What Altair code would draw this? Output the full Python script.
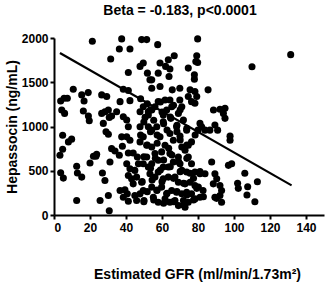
import altair as alt
import pandas as pd

gfr = [
    21.3, 3.7, 5.6, 7.4, 4.3, 5.9, 10.7, 4.8, 9.8, 8.0, 4.8, 3.3, 3.7, 5.2, 12.6, 13.0, 15.4, 12.6,
    15.4, 19.0, 16.7, 16.3, 19.1, 19.6, 20.0, 21.9, 23.3, 23.7,
    26.5, 29.3, 26.5, 28.3, 30.2, 30.7, 27.4, 28.9, 30.2, 26.9, 28.3, 25.6, 30.2, 30.7, 31.5, 32.0, 33.9, 36.3, 31.1, 34.8, 32.0, 36.7,
    36.3, 37.6, 42.2, 41.3, 38.5, 41.3, 42.2, 38.5, 40.4, 41.3, 37.6, 40.4, 42.2, 38.0, 41.3, 44.0, 46.3, 40.4, 42.2, 44.9, 41.3, 43.1, 44.0, 36.7, 39.4, 40.7, 38.5, 41.3, 44.9, 45.9, 47.8, 49.6, 48.7, 45.9, 50.0,
    48.7, 51.5, 47.8, 49.6, 51.9, 53.3, 49.6, 52.4, 47.8, 50.6, 47.8, 52.4, 49.6, 47.8, 51.5, 46.9, 51.5, 52.4, 49.6,
    57.6, 79.8, 63.5, 66.8, 64.4, 62.0, 79.3, 79.8, 78.8, 74.6, 78.0, 78.0, 58.9, 54.3, 57.9, 63.9, 69.9, 65.7, 58.9, 54.3, 75.6, 78.3, 85.6, 74.6, 76.4, 79.3, 78.3,
    61.7, 64.4, 65.4, 62.6, 60.7, 57.9, 56.1, 54.3, 52.4, 69.9, 71.0, 69.1, 71.9, 68.1, 64.9, 60.7, 57.1, 54.3, 58.9, 61.7, 64.4, 66.3, 70.0, 73.7, 71.0, 74.6, 76.4, 80.0, 81.1, 82.0, 83.9, 88.6, 92.2, 95.0, 95.0, 94.1, 89.4, 90.9, 97.8, 97.8, 86.6,
    54.3, 56.1, 59.8, 64.4, 69.1, 72.8, 74.6, 76.4, 54.3, 57.9, 60.7, 63.5, 66.3, 70.0, 71.0, 73.7, 78.3, 81.1, 83.9, 87.6, 89.4, 90.4, 96.9, 98.7, 53.3, 56.1, 57.9, 60.7, 63.5, 67.2, 69.1, 72.8, 75.6, 78.3, 80.2, 82.8, 88.5, 92.2, 93.1, 92.2, 89.4, 93.1,
    54.3, 57.1, 59.8, 62.6, 65.4, 68.1, 71.0, 73.7, 76.4, 55.2, 57.9, 61.7, 64.4, 67.2, 69.1, 71.9, 74.6, 72.8, 78.3, 81.1,
    106.0, 102.0, 102.4, 107.6, 113.0, 107.2, 111.6, 110.0, 131.5,
    48.1, 53.6, 57.3, 62.8, 68.3, 73.8, 78.4, 51.8, 57.3, 63.7, 70.1, 73.8, 49.9, 56.3, 60.9, 65.5, 69.2, 73.8,
    53.6, 59.1, 64.6, 70.1, 75.6, 81.1, 49.0, 54.5, 60.0, 66.4, 72.0, 77.5, 51.8, 57.3, 62.8, 68.3, 73.8, 79.3,
    49.9, 55.4, 60.9, 66.4, 72.0, 77.5, 83.0, 90.3,
    48.1, 51.8, 53.6, 59.1, 66.4, 60.0, 64.6, 70.1, 49.9, 55.4, 60.9, 68.3,
]
hepassocin = [
    1963, 1289, 1319, 1319, 1186, 1148, 1421, 902, 857, 826, 743, 675, 478, 417, 550, 474, 428, 163,
    1357, 1383, 1289, 1175, 1118, 1065, 587, 663, 663, 686,
    1357, 1338, 1148, 1167, 1186, 1103, 1035, 940, 913, 474, 390, 163, 220, 49, 1762, 750, 724, 675, 599, 1167, 1118, 1281,
    1876, 1990, 1876, 1611, 1421, 1406, 1292, 1110, 1073, 997, 883, 883, 845, 777, 701, 701, 656, 580, 523, 504, 447, 409, 352, 277, 284, 239, 201, 155, 220, 163, 239, 277, 371, 428, 163,
    1982, 1982, 1679, 1717, 1603, 1527, 1224, 1167, 1167, 1103, 997, 997, 883, 826, 788, 580, 656, 542, 580,
    1925, 1990, 1755, 1800, 1649, 1679, 1800, 1724, 1735, 1660, 1584, 1535, 1717, 1527, 1603, 1565, 1433, 1414, 1452, 1433, 1414, 1395, 1414, 1338, 1281, 1338, 1262,
    1300, 1300, 1224, 1186, 1129, 1281, 1224, 1186, 1129, 1300, 1224, 1148, 1073, 997, 1092, 1054, 997, 959, 883, 788, 921, 845, 891, 959, 769, 788, 826, 959, 1035, 997, 959, 1186, 1194, 1205, 1092, 1148, 1016, 959, 891, 845, 959,
    769, 694, 713, 694, 656, 731, 656, 580, 580, 618, 542, 542, 599, 580, 504, 485, 485, 466, 466, 599, 466, 409, 561, 580, 466, 428, 485, 409, 428, 428, 371, 352, 371, 333, 315, 277, 352, 333, 277, 220, 201, 144,
    315, 277, 315, 239, 277, 258, 239, 258, 239, 201, 144, 182, 144, 163, 106, 163, 144, 87, 182, 201,
    471, 358, 301, 320, 376, 226, 150, 1675, 1812,
    904, 942, 904, 960, 942, 979, 904, 791, 810, 753, 848, 791, 659, 640, 621, 678, 603, 640,
    527, 508, 546, 490, 471, 490, 377, 396, 377, 414, 358, 414, 264, 283, 245, 264, 226, 301,
    151, 170, 132, 151, 113, 170, 207, 188,
    1314, 1258, 1190, 1277, 1240, 1164, 1107, 1190, 1051, 1070, 1032, 1013,
]

line_gfr = [3.3, 132.0]
line_hep = [1830, 335]

x_ticks = [0, 20, 40, 60, 80, 100, 120, 140]
y_ticks = [0, 500, 1000, 1500, 2000]

pts = pd.DataFrame({"gfr": gfr, "hep": hepassocin})
ln = pd.DataFrame({"gfr": line_gfr, "hep": line_hep})

FONT = "Liberation Sans"

xscale = alt.Scale(domain=[0, 150], nice=False, zero=False)
yscale = alt.Scale(domain=[0, 2000], nice=False)

xaxis = alt.Axis(
    values=x_ticks, format="d", labelOverlap=False, title="Estimated GFR (ml/min/1.73m²)", grid=False,
    domainColor="black", domainWidth=2, tickColor="black", tickWidth=2, tickSize=4,
    labelFont=FONT, labelFontWeight="bold", labelFontSize=12, labelColor="black", labelPadding=3,
    titleFont=FONT, titleFontWeight="bold", titleFontSize=14, titleColor="black",
    titlePadding=34, titleX=143,
)
yaxis = alt.Axis(
    values=y_ticks, format="d", labelOverlap=False, title="Hepassocin (ng/mL)", grid=False,
    domainColor="black", domainWidth=2, tickColor="black", tickWidth=2, tickSize=4,
    labelFont=FONT, labelFontWeight="bold", labelFontSize=12, labelColor="black", labelPadding=2,
    titleFont=FONT, titleFontWeight="bold", titleFontSize=14, titleColor="black",
    titlePadding=2,
)

enc = dict(
    x=alt.X("gfr:Q", scale=xscale, axis=xaxis),
    y=alt.Y("hep:Q", scale=yscale, axis=yaxis),
)

points = alt.Chart(pts).mark_circle(size=50, color="black", opacity=1).encode(**enc)
reg = alt.Chart(ln).mark_line(color="black", strokeWidth=2.2).encode(**enc)

chart = (
    alt.layer(points, reg)
    .properties(
        width=270, height=177,
        autosize=alt.AutoSizeParams(type="none"),
        padding={"left": 54, "top": 38, "right": 4, "bottom": 71},
        title=alt.TitleParams(
            "Beta = -0.183, p<0.0001", font=FONT, fontWeight="bold", fontSize=14,
            color="black", anchor="middle", dx=-9, offset=14,
        ),
    )
    .configure(background="white")
    .configure_view(stroke=None)
)

chart.save("out.html", embed_options={"renderer": "svg", "actions": False})
